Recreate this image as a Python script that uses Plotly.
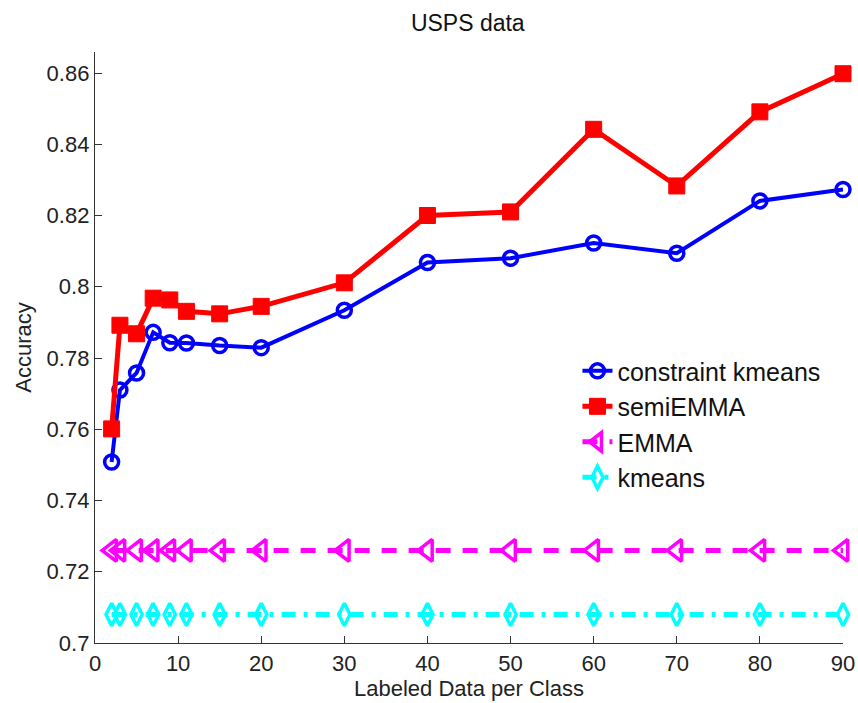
import plotly.graph_objects as go

labeled_per_class = [2, 3, 5, 7, 9, 11, 15, 20, 30, 40, 50, 60, 70, 80, 90]
constraint_kmeans = [0.7508, 0.7710, 0.7758, 0.7872, 0.7843, 0.7842, 0.7835, 0.7829,
                     0.7934, 0.8068, 0.8080, 0.8123, 0.8094, 0.8241, 0.8273]
semi_emma = [0.7601, 0.7892, 0.7868, 0.7968, 0.7963, 0.7931, 0.7924, 0.7945,
             0.8011, 0.8200, 0.8210, 0.8442, 0.8283, 0.8491, 0.8598]
emma = [0.726] * 15
kmeans = [0.708] * 15

x_ticks = [0, 10, 20, 30, 40, 50, 60, 70, 80, 90]
y_ticks = [0.70, 0.72, 0.74, 0.76, 0.78, 0.80, 0.82, 0.84, 0.86]
y_tick_labels = ["0.7", "0.72", "0.74", "0.76", "0.78", "0.8", "0.82", "0.84", "0.86"]

FONT = "Liberation Sans, Arial, sans-serif"

fig = go.Figure()
fig.add_trace(go.Scatter(
    x=labeled_per_class, y=constraint_kmeans, name="constraint kmeans",
    mode="lines+markers", cliponaxis=False,
    line=dict(color="#0000FF", width=4),
    marker=dict(symbol="circle-open", size=14, color="#0000FF", line=dict(width=3.5, color="#0000FF")),
))
fig.add_trace(go.Scatter(
    x=labeled_per_class, y=semi_emma, name="semiEMMA",
    mode="lines+markers", cliponaxis=False,
    line=dict(color="#FF0000", width=5),
    marker=dict(symbol="square", size=16, color="#FF0000", line=dict(width=1, color="#FF0000")),
))
fig.add_trace(go.Scatter(
    x=labeled_per_class, y=emma, name="EMMA",
    mode="lines+markers", cliponaxis=False,
    line=dict(color="#FF00FF", width=5, dash="15px,12px"),
    marker=dict(symbol="triangle-left-open", size=19, color="#FF00FF", line=dict(width=3.5, color="#FF00FF")),
))
fig.add_trace(go.Scatter(
    x=labeled_per_class, y=kmeans, name="kmeans",
    mode="lines+markers", cliponaxis=False,
    line=dict(color="#00FFFF", width=5, dash="14px,8px,4px,8px"),
    marker=dict(symbol="diamond-tall-open", size=16, color="#00FFFF", line=dict(width=3.5, color="#00FFFF")),
))

fig.update_layout(
    width=858, height=703,
    margin=dict(l=95, r=15, t=52, b=60, autoexpand=False),
    paper_bgcolor="white", plot_bgcolor="white",
    font=dict(family=FONT, size=22, color="#222222"),
    title=dict(text="USPS data", x=0.5452, xanchor="center", y=0.968, yanchor="middle",
               font=dict(family=FONT, size=23, color="#111111")),
    showlegend=True,
    legend=dict(x=0.645, xanchor="left", y=0.499, yanchor="top",
                bgcolor="rgba(0,0,0,0)", borderwidth=0,
                font=dict(family=FONT, size=25, color="#111111"),
                tracegroupgap=0),
    xaxis=dict(range=[0, 90], tickvals=x_ticks, ticks="inside", ticklen=7, tickwidth=1.3,
               tickcolor="#333333", showline=True, linecolor="#333333", linewidth=1.3,
               showgrid=False, zeroline=False, mirror=False, automargin=False,
               title=dict(text="Labeled Data per Class", standoff=6, font=dict(size=22)),
               tickfont=dict(size=22)),
    yaxis=dict(range=[0.7, 0.8659], tickvals=y_ticks, ticktext=y_tick_labels,
               ticks="inside", ticklen=7, tickwidth=1.3,
               tickcolor="#333333", showline=True, linecolor="#333333", linewidth=1.3,
               showgrid=False, zeroline=False, mirror=False, automargin=False,
               title=dict(text="Accuracy", standoff=8, font=dict(size=22)),
               tickfont=dict(size=22)),
)

fig.write_html("out.html")
